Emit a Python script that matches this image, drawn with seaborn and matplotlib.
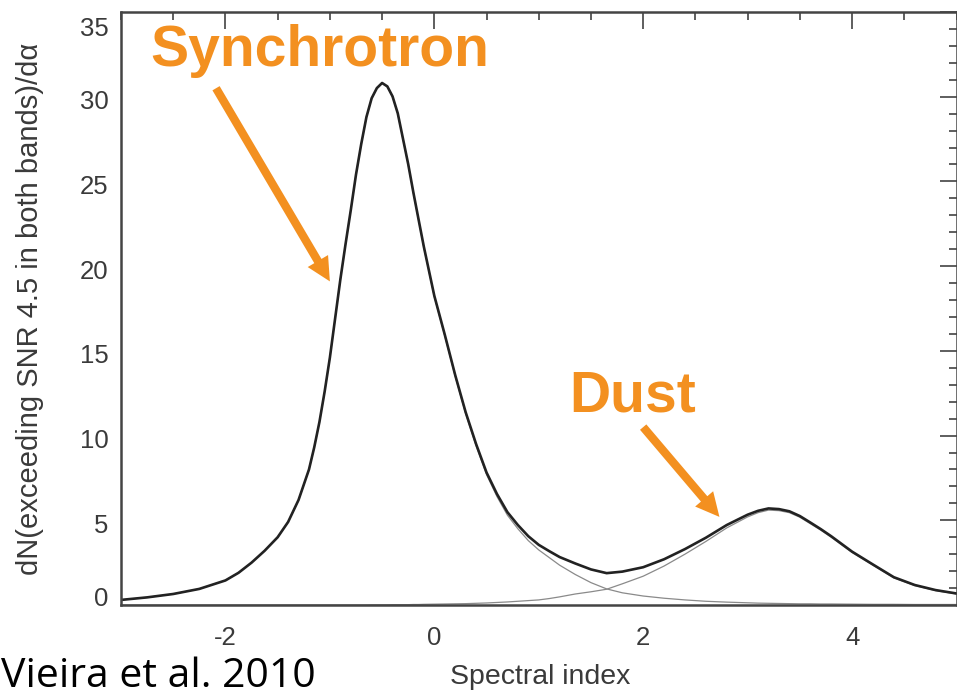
import numpy as np
import pandas as pd
import seaborn as sns
import matplotlib
matplotlib.use("Agg")
import matplotlib.pyplot as plt
import matplotlib.transforms as mtransforms
from matplotlib.ticker import MultipleLocator

# ---- data ----
spectral_index = [-3.0, -2.75, -2.5, -2.25, -2.0, -1.875, -1.75, -1.625, -1.5, -1.4,
                  -1.3, -1.2, -1.15, -1.1, -1.05, -1.0, -0.95, -0.9, -0.85, -0.8,
                  -0.75, -0.7, -0.65, -0.6, -0.55, -0.5, -0.45, -0.4, -0.35, -0.3,
                  -0.25, -0.2, -0.15, -0.1, 0.0, 0.1, 0.2, 0.3, 0.4, 0.5,
                  0.6, 0.7, 0.8, 0.9, 1.0, 1.1, 1.2, 1.35, 1.5, 1.65,
                  1.8, 2.0, 2.2, 2.4, 2.6, 2.8, 3.0, 3.1, 3.2, 3.3,
                  3.4, 3.5, 3.6, 3.7, 3.8, 4.0, 4.2, 4.4, 4.6, 4.8,
                  5.0]
synchrotron = [0.30, 0.45, 0.65, 0.95, 1.45, 1.9, 2.5, 3.2, 4.0, 4.9,
               6.2, 8.0, 9.3, 10.8, 12.6, 14.6, 16.9, 19.2, 21.3, 23.3,
               25.4, 27.2, 28.8, 29.9, 30.5, 30.8, 30.6, 30.0, 29.0, 27.5,
               26.0, 24.3, 22.7, 21.1, 18.2, 15.9, 13.5, 11.3, 9.4, 7.7,
               6.4, 5.3, 4.5, 3.8, 3.25, 2.8, 2.35, 1.8, 1.32, 0.95,
               0.72, 0.53, 0.40, 0.30, 0.22, 0.17, 0.13, 0.11, 0.10, 0.09,
               0.08, 0.07, 0.07, 0.06, 0.06, 0.05, 0.04, 0.04, 0.03, 0.03,
               0.03]
dust = [0.0, 0.0, 0.0, 0.0, 0.0, 0.0, 0.0, 0.0, 0.0, 0.0,
        0.0, 0.0, 0.0, 0.0, 0.0, 0.0, 0.0, 0.0, 0.0, 0.0,
        0.0, 0.0, 0.0, 0.01, 0.01, 0.01, 0.01, 0.02, 0.02, 0.02,
        0.02, 0.03, 0.03, 0.04, 0.05, 0.06, 0.07, 0.08, 0.10, 0.12,
        0.15, 0.18, 0.22, 0.26, 0.30, 0.38, 0.48, 0.65, 0.78, 0.93,
        1.25, 1.70, 2.30, 3.00, 3.75, 4.55, 5.20, 5.45, 5.60, 5.57,
        5.45, 5.18, 4.80, 4.42, 4.00, 3.10, 2.35, 1.60, 1.15, 0.85,
        0.65]
total = [0.30, 0.45, 0.65, 0.95, 1.45, 1.9, 2.5, 3.2, 4.0, 4.9,
         6.2, 8.0, 9.3, 10.8, 12.6, 14.6, 16.9, 19.2, 21.3, 23.3,
         25.4, 27.2, 28.8, 29.91, 30.51, 30.81, 30.61, 30.02, 29.02, 27.52,
         26.02, 24.33, 22.73, 21.14, 18.25, 15.96, 13.57, 11.38, 9.50, 7.82,
         6.55, 5.48, 4.72, 4.06, 3.55, 3.18, 2.83, 2.45, 2.10, 1.88,
         1.97, 2.23, 2.70, 3.30, 3.97, 4.72, 5.33, 5.56, 5.70, 5.66,
         5.53, 5.25, 4.87, 4.48, 4.06, 3.15, 2.39, 1.64, 1.18, 0.88,
         0.68]

x_ticks = [-2, 0, 2, 4]
y_ticks = [0, 5, 10, 15, 20, 25, 30, 35]

df = pd.DataFrame({"x": spectral_index, "sync": synchrotron, "dust": dust, "total": total})

sns.set_style("white")
plt.rcParams["font.family"] = ["Liberation Sans", "DejaVu Sans"]
plt.rcParams["axes.unicode_minus"] = False

W, H = 957, 696
fig = plt.figure(figsize=(W / 100, H / 100), dpi=100)
ax = fig.add_axes([121 / W, 91 / H, (956.5 - 121) / W, (605 - 12) / H])

sns.lineplot(data=df, x="x", y="sync", ax=ax, color="#8a8a8a", lw=0.9, sort=False)
sns.lineplot(data=df, x="x", y="dust", ax=ax, color="#8a8a8a", lw=0.9, sort=False)
sns.lineplot(data=df, x="x", y="total", ax=ax, color="#222222", lw=1.9, sort=False)

ax.set_xlim(-3, 5)
ax.set_ylim(0, 35)
ax.set_xticks(x_ticks)
ax.set_yticks(y_ticks)
ax.xaxis.set_minor_locator(MultipleLocator(0.5))
ax.yaxis.set_minor_locator(MultipleLocator(1))
ax.tick_params(which="both", direction="in", top=True, right=True,
               color="#333333", width=1.1, labelsize=18.5, labelcolor="#3a3a3a")
ax.tick_params(which="major", length=12)
ax.tick_params(axis="x", which="major", pad=15)
ax.tick_params(axis="y", which="major", pad=9)
ax.tick_params(which="minor", length=6)
for s in ax.spines.values():
    s.set_color("#444444")
    s.set_linewidth(1.8)

# IDL-style: end labels pulled inside the axis range
ylabels = ax.get_yticklabels()
for i, lbl in enumerate(ylabels):
    if i == 0:
        dy = 9
    elif i == len(ylabels) - 1:
        dy = -14
    else:
        dy = -3
    lbl.set_transform(lbl.get_transform() +
                      mtransforms.ScaledTranslation(0, dy / 100, fig.dpi_scale_trans))

ax.set_xlabel("Spectral index", fontsize=20.5, color="#3a3a3a")
ax.set_ylabel("dN(exceeding SNR 4.5 in both bands)/dα", fontsize=21, color="#3a3a3a")
ax.xaxis.set_label_coords((540 - 121) / 835, -(677 - 605) / 593)
ax.yaxis.set_label_coords((30 - 121) / 835, 0.5)
ax.xaxis.label.set_verticalalignment("center")
ax.yaxis.label.set_verticalalignment("center")

orange = "#F39020"
ax.text(-2.72, 31.8, "Synchrotron", color=orange, fontsize=41, fontweight="bold",
        ha="left", va="baseline")
ax.text(1.29, 11.4, "Dust", color=orange, fontsize=41, fontweight="bold",
        ha="left", va="baseline")
arrow = dict(arrowstyle="simple,head_width=1.7,head_length=1.7,tail_width=0.6",
             color=orange, mutation_scale=10, shrinkA=0, shrinkB=0, lw=0)
ax.annotate("", xy=(-1.0, 19.1), xytext=(-2.09, 30.5), arrowprops=arrow)
ax.annotate("", xy=(2.73, 5.2), xytext=(2.0, 10.5), arrowprops=arrow)

fig.text(1 / W, (696 - 687) / H, "Vieira et al. 2010", fontsize=29.5, color="black",
         family=["Open Sans", "DejaVu Sans"], ha="left", va="baseline")

fig.savefig("out.png", dpi=100)
